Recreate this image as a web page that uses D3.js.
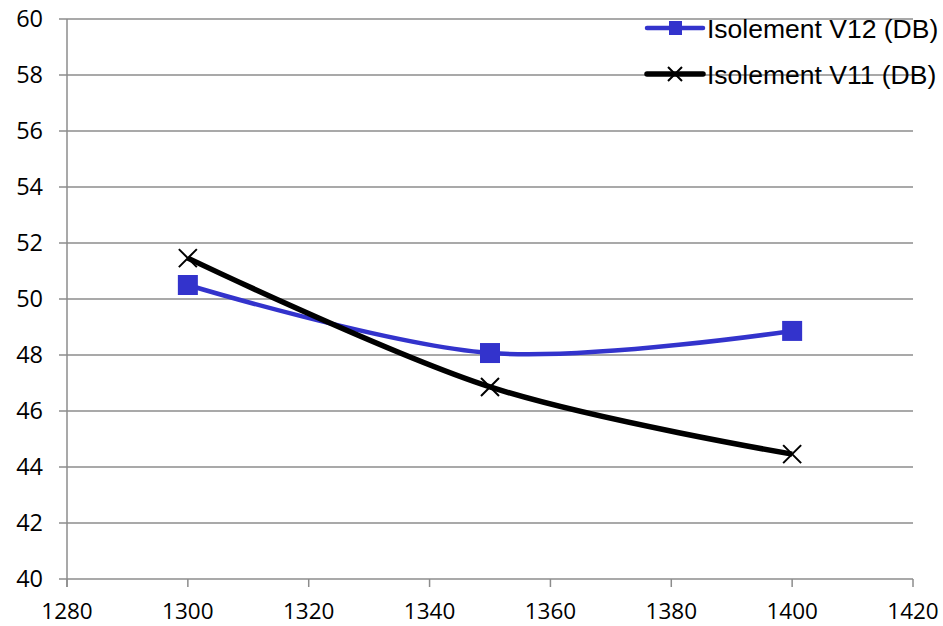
<!DOCTYPE html>
<html>
<head>
<meta charset="utf-8">
<script src="https://cdn.jsdelivr.net/npm/d3@7"></script>
<style>
  html, body { margin: 0; padding: 0; background: #ffffff; }
  svg { display: block; }
</style>
</head>
<body>
<svg id="chart" width="943" height="626"></svg>
<script>
// ---- data ----
const xValues = [1300, 1350, 1400];
const seriesNames = ["Isolement V12 (DB)", "Isolement V11 (DB)"];
const v12 = [50.5, 48.07, 48.86];
const v11 = [51.46, 46.86, 44.46];
const xTicks = [1280, 1300, 1320, 1340, 1360, 1380, 1400, 1420];
const yTicks = [40, 42, 44, 46, 48, 50, 52, 54, 56, 58, 60];

(function () {
// ---- layout ----
const svg = d3.select("#chart");
const pLeft = 67, pRight = 913, pTop = 19, pBottom = 579;
const x = d3.scaleLinear().domain([1280, 1420]).range([pLeft, pRight]);
const y = d3.scaleLinear().domain([40, 60]).range([pBottom, pTop]);
const gridColor = "#8c8c8c";
const tickFont = "'Open Sans', 'Liberation Sans', Arial, sans-serif";

// horizontal gridlines
svg.append("g").selectAll("line").data(yTicks).join("line")
  .attr("x1", pLeft - 8).attr("x2", pRight)
  .attr("y1", d => y(d)).attr("y2", d => y(d))
  .attr("stroke", gridColor).attr("stroke-width", 1.5);

// y axis line
svg.append("line").attr("x1", pLeft).attr("x2", pLeft).attr("y1", pTop).attr("y2", pBottom + 8)
  .attr("stroke", gridColor).attr("stroke-width", 1.5);
// x tick marks
svg.append("g").selectAll("line").data(xTicks).join("line")
  .attr("x1", d => x(d)).attr("x2", d => x(d))
  .attr("y1", pBottom).attr("y2", pBottom + 8)
  .attr("stroke", gridColor).attr("stroke-width", 1.5);

// y labels
svg.append("g").selectAll("text").data(yTicks).join("text")
  .attr("x", 43).attr("y", d => y(d)).attr("dy", "0.36em")
  .attr("text-anchor", "end")
  .attr("font-family", tickFont).attr("font-size", 23.5).attr("fill", "#000")
  .text(d => d);

// x labels
svg.append("g").selectAll("text").data(xTicks).join("text")
  .attr("x", d => x(d)).attr("y", 619)
  .attr("text-anchor", "middle")
  .attr("font-family", tickFont).attr("font-size", 22.5).attr("fill", "#000")
  .text(d => d);

const blue = "#3333cc";
const line = d3.line().curve(d3.curveCardinal.tension(0))
  .x(d => x(d[0])).y(d => y(d[1]));

const d12 = xValues.map((xv, i) => [xv, v12[i]]);
const d11 = xValues.map((xv, i) => [xv, v11[i]]);

svg.append("path").datum(d12).attr("d", line)
  .attr("fill", "none").attr("stroke", blue).attr("stroke-width", 4.5);
svg.append("path").datum(d11).attr("d", line)
  .attr("fill", "none").attr("stroke", "#000").attr("stroke-width", 5.5);

// markers
svg.append("g").selectAll("rect").data(d12).join("rect")
  .attr("x", d => x(d[0]) - 10).attr("y", d => y(d[1]) - 10)
  .attr("width", 20).attr("height", 20).attr("fill", blue);

function cross(g, cx, cy, s, w) {
  g.append("path")
    .attr("d", `M${cx - s},${cy - s}L${cx + s},${cy + s}M${cx - s},${cy + s}L${cx + s},${cy - s}`)
    .attr("stroke", "#000").attr("stroke-width", w).attr("fill", "none");
}
const cg = svg.append("g");
d11.forEach(d => cross(cg, x(d[0]), y(d[1]), 9, 2));

// legend
const legendFont = "'Liberation Sans', Arial, sans-serif";
const legY = [28, 74];
const lg = svg.append("g");
[0, 1].forEach(i => {
  const yy = legY[i];
  lg.append("line").attr("x1", 647).attr("x2", 703).attr("y1", yy).attr("y2", yy)
    .attr("stroke", i === 0 ? blue : "#000").attr("stroke-width", i === 0 ? 4.5 : 5.5)
    .attr("stroke-linecap", "round");
  if (i === 0) {
    lg.append("rect").attr("x", 669).attr("y", yy - 7).attr("width", 13).attr("height", 14).attr("fill", blue);
  } else {
    cross(lg, 675, yy, 7, 2);
  }
  lg.append("text").attr("x", 707).attr("y", yy).attr("dy", "0.36em")
    .attr("font-family", legendFont).attr("font-size", 26.5).attr("fill", "#000")
    .text(seriesNames[i]);
});
})();
</script>
</body>
</html>
